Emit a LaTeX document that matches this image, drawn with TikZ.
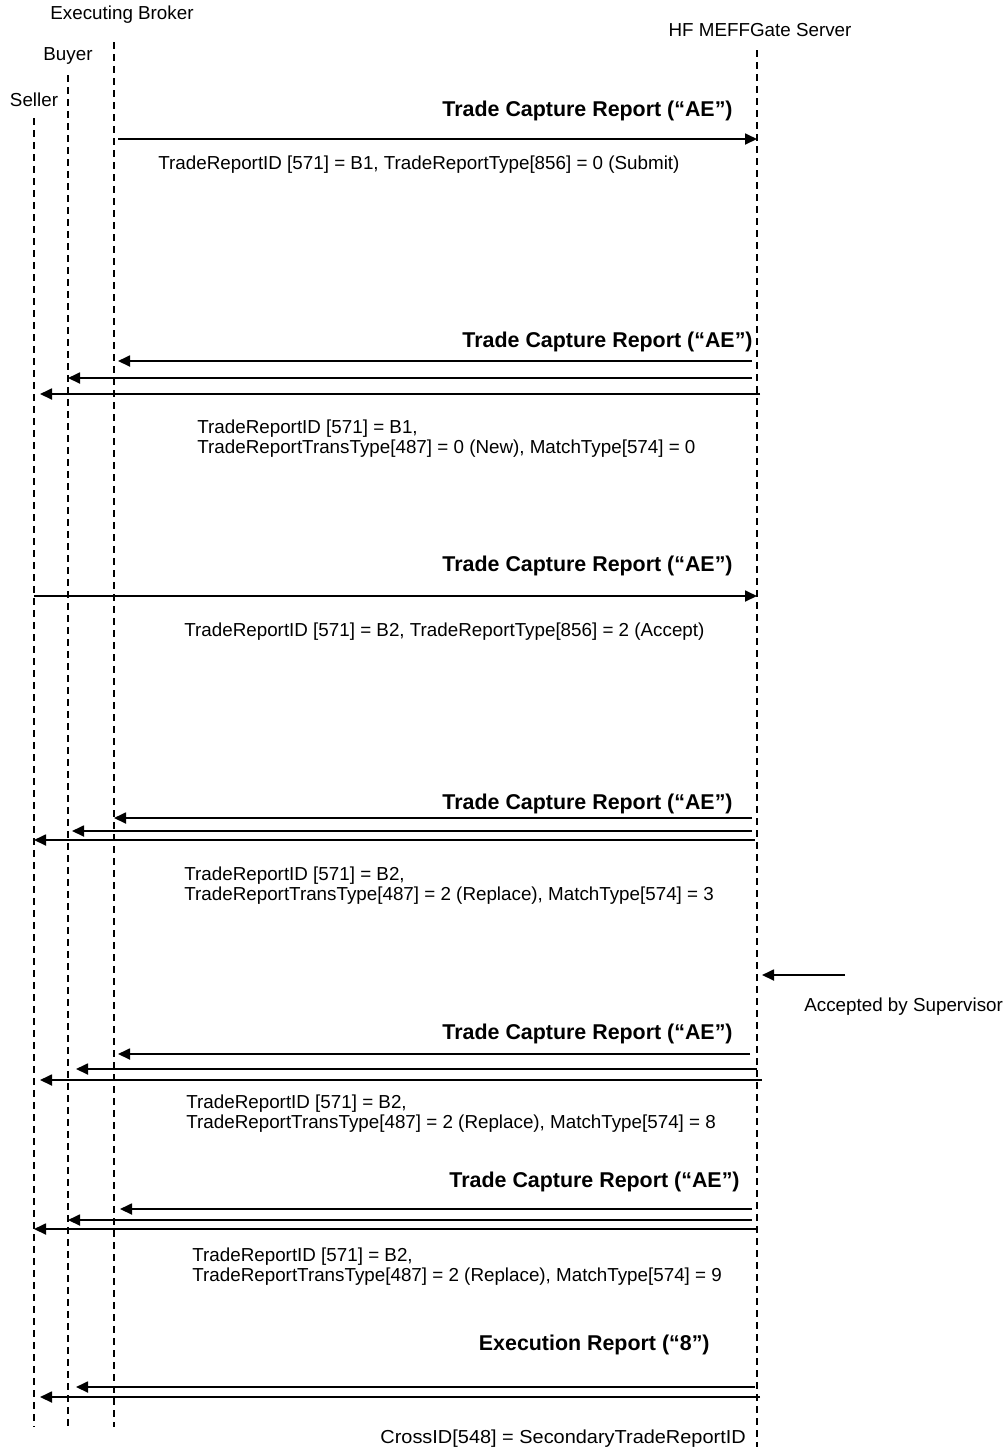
\documentclass[tikz,border=0pt]{standalone}
\usepackage{fontspec}
\setmainfont{Liberation Sans}
\usetikzlibrary{arrows.meta}

\tikzset{
  lifeline/.style={line width=0.6pt, dash pattern=on 3.5pt off 2.5pt},
  msg/.style={line width=0.9pt, -{Triangle[length=6pt,width=5.5pt]}},
  msgtitle/.style={font=\bfseries\fontsize{10.7}{12}\selectfont, anchor=base east, inner sep=0pt},
  msginfo/.style={font=\fontsize{9.4}{10}\selectfont, anchor=base west, inner sep=0pt, align=left},
  actor/.style={font=\fontsize{9.4}{10}\selectfont, inner sep=0pt}
}

\begin{document}
\begin{tikzpicture}[x=0.5pt,y=-0.5pt]
  \useasboundingbox (0,0) rectangle (1003,1447);

  % participants
  \node[actor] (broker) at (122,15) {Executing Broker};
  \node[actor] (buyer)  at (68,56)  {Buyer};
  \node[actor] (seller) at (34,100) {Seller};
  \node[actor] (server) at (760,30) {HF MEFFGate Server};

  % lifelines
  \coordinate (brokerTop) at (114,42);
  \coordinate (buyerTop)  at (68,75);
  \coordinate (sellerTop) at (34,118);
  \coordinate (serverTop) at (757,50);
  \coordinate (leftEnd)   at (0,1427);
  \coordinate (rightEnd)  at (0,1447);
  \draw[lifeline] (brokerTop) -- (brokerTop |- leftEnd);
  \draw[lifeline] (buyerTop)  -- (buyerTop |- leftEnd);
  \draw[lifeline] (sellerTop) -- (sellerTop |- leftEnd);
  \draw[lifeline] (serverTop) -- (serverTop |- rightEnd);

  % message rows
  \coordinate (m1)  at (0,139);
  \coordinate (m2a) at (0,361);  \coordinate (m2b) at (0,378);  \coordinate (m2c) at (0,394);
  \coordinate (m3)  at (0,596);
  \coordinate (m4a) at (0,818);  \coordinate (m4b) at (0,831);  \coordinate (m4c) at (0,840);
  \coordinate (m5)  at (0,975);
  \coordinate (m6a) at (0,1054); \coordinate (m6b) at (0,1069); \coordinate (m6c) at (0,1080);
  \coordinate (m7a) at (0,1209); \coordinate (m7b) at (0,1220); \coordinate (m7c) at (0,1229);
  \coordinate (m8a) at (0,1387); \coordinate (m8b) at (0,1397);
  \coordinate (supervisor) at (845,975);

  % 1: submit from broker
  \node[msgtitle] (t1) at (733,116) {Trade Capture Report (“AE”)};
  \draw[msg] ([xshift=2pt]brokerTop |- m1) -- (serverTop |- m1);
  \node[msginfo] (i1) at (158,169) {TradeReportID [571] = B1, TradeReportType[856] = 0 (Submit)};

  % 2: new
  \node[msgtitle] (t2) at (753,347) {Trade Capture Report (“AE”)};
  \draw[msg] ([xshift=-2.5pt]serverTop |- m2a) -- ([xshift=2pt]brokerTop |- m2a);
  \draw[msg] ([xshift=-2.5pt]serverTop |- m2b) -- (buyerTop |- m2b);
  \draw[msg] ([xshift=1.5pt]serverTop |- m2c) -- ([xshift=3pt]sellerTop |- m2c);
  \node[msginfo] (i2) at (197,453) {TradeReportID [571] = B1,\\TradeReportTransType[487] = 0 (New), MatchType[574] = 0};

  % 3: accept from seller
  \node[msgtitle] (t3) at (733,571) {Trade Capture Report (“AE”)};
  \draw[msg] (sellerTop |- m3) -- (serverTop |- m3);
  \node[msginfo] (i3) at (184,636) {TradeReportID [571] = B2, TradeReportType[856] = 2 (Accept)};

  % 4: replace, match 3
  \node[msgtitle] (t4) at (733,809) {Trade Capture Report (“AE”)};
  \draw[msg] ([xshift=-2.5pt]serverTop |- m4a) -- (brokerTop |- m4a);
  \draw[msg] ([xshift=-2.5pt]serverTop |- m4b) -- ([xshift=2pt]buyerTop |- m4b);
  \draw[msg] ([xshift=-1pt]serverTop |- m4c) -- (sellerTop |- m4c);
  \node[msginfo] (i4) at (184,900) {TradeReportID [571] = B2,\\TradeReportTransType[487] = 2 (Replace), MatchType[574] = 3};

  % 5: supervisor
  \draw[msg] (supervisor) -- ([xshift=2.5pt]serverTop |- m5);
  \node[msginfo] (i5) at (804,1011) {Accepted by Supervisor};

  % 6: replace, match 8
  \node[msgtitle] (t6) at (733,1039) {Trade Capture Report (“AE”)};
  \draw[msg] ([xshift=-3.5pt]serverTop |- m6a) -- ([xshift=2pt]brokerTop |- m6a);
  \draw[msg] (serverTop |- m6b) -- ([xshift=4pt]buyerTop |- m6b);
  \draw[msg] ([xshift=2.5pt]serverTop |- m6c) -- ([xshift=3pt]sellerTop |- m6c);
  \node[msginfo] (i6) at (186,1128) {TradeReportID [571] = B2,\\TradeReportTransType[487] = 2 (Replace), MatchType[574] = 8};

  % 7: replace, match 9
  \node[msgtitle] (t7) at (740,1187) {Trade Capture Report (“AE”)};
  \draw[msg] ([xshift=-2.5pt]serverTop |- m7a) -- ([xshift=3pt]brokerTop |- m7a);
  \draw[msg] ([xshift=-2.5pt]serverTop |- m7b) -- (buyerTop |- m7b);
  \draw[msg] (serverTop |- m7c) -- (sellerTop |- m7c);
  \node[msginfo] (i7) at (192,1281) {TradeReportID [571] = B2,\\TradeReportTransType[487] = 2 (Replace), MatchType[574] = 9};

  % 8: execution report
  \node[msgtitle] (t8) at (710,1350) {Execution Report (“8”)};
  \draw[msg] ([xshift=-1pt]serverTop |- m8a) -- ([xshift=4pt]buyerTop |- m8a);
  \draw[msg] ([xshift=1.5pt]serverTop |- m8b) -- ([xshift=3pt]sellerTop |- m8b);
  \node[msginfo, xscale=1.06] (i8) at (380,1443) {CrossID[548] = SecondaryTradeReportID};
\end{tikzpicture}
\end{document}
